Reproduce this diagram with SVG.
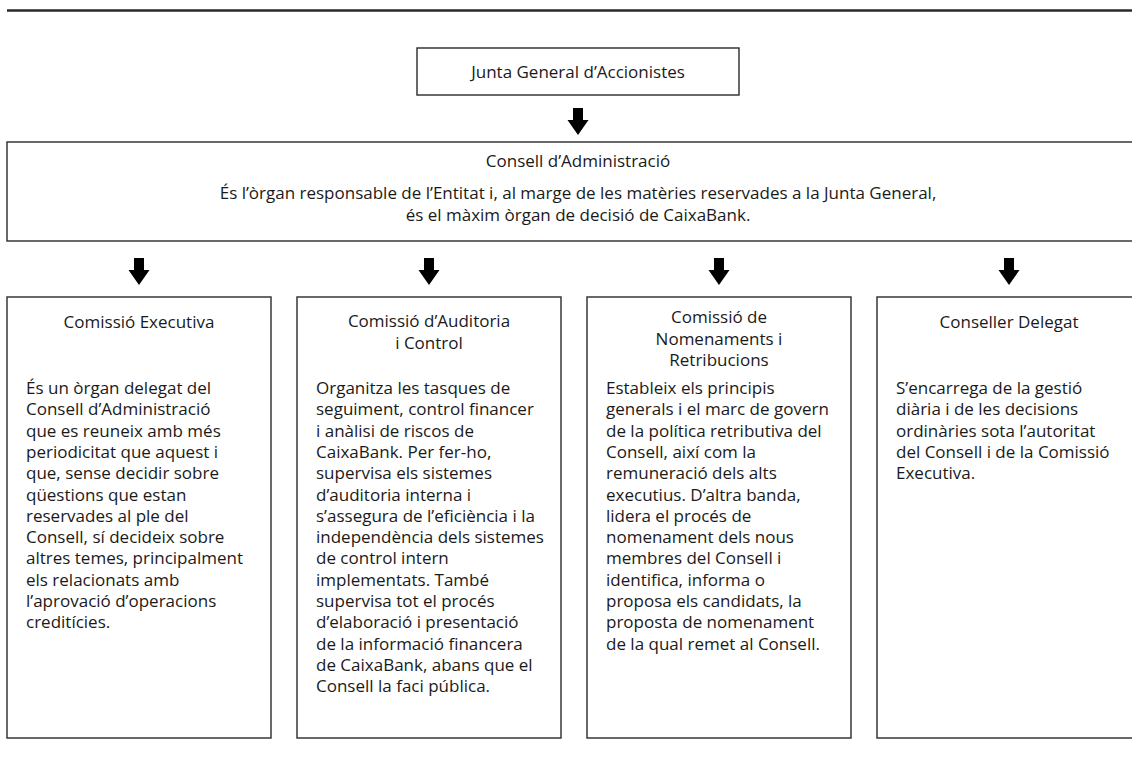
<svg xmlns="http://www.w3.org/2000/svg" width="1132" height="758" viewBox="0 0 1132 758">
<style>
.box{fill:#fff;stroke:#2a2a2a;stroke-width:1.4}
.t{font-family:"Open Sans","Noto Sans","Liberation Sans",sans-serif;font-size:17px;fill:#1a1a1a}
.c{text-anchor:middle}
.arr{fill:#000}
</style>
<defs>
<path id="arrow" d="M-5,0 H5 V12 H10.5 L0,27 L-10.5,12 H-5 Z"/>
</defs>
<rect width="1132" height="758" fill="#fff"/>
<line x1="7" y1="10.5" x2="1132" y2="10.5" stroke="#2a2a2a" stroke-width="2.5"/>
<g id="connectors">
<use href="#arrow" class="arr" x="578" y="108"/>
<use href="#arrow" class="arr" x="139" y="258"/>
<use href="#arrow" class="arr" x="429" y="258"/>
<use href="#arrow" class="arr" x="719" y="258"/>
<use href="#arrow" class="arr" x="1009" y="258"/>
</g>
<g id="junta">
<rect class="box" x="417" y="48" width="322" height="47"/>
<text class="t c" x="578" y="78">Junta General d’Accionistes</text>
</g>
<g id="consell">
<rect class="box" x="7" y="142" width="1140" height="99"/>
<text class="t c" x="578" y="167">Consell d’Administració</text>
<text class="t c" x="578" y="199">És l’òrgan responsable de l’Entitat i, al marge de les matèries reservades a la Junta General,</text>
<text class="t c" x="578" y="221">és el màxim òrgan de decisió de CaixaBank.</text>
</g>
<g id="executiva">
<rect class="box" x="7" y="297" width="264" height="441"/>
<text class="t c" x="139" y="328">Comissió Executiva</text>
<text class="t" x="26" y="394">
<tspan x="26" dy="0">És un òrgan delegat del</tspan>
<tspan x="26" dy="21.3">Consell d’Administració</tspan>
<tspan x="26" dy="21.3">que es reuneix amb més</tspan>
<tspan x="26" dy="21.3">periodicitat que aquest i</tspan>
<tspan x="26" dy="21.3">que, sense decidir sobre</tspan>
<tspan x="26" dy="21.3">qüestions que estan</tspan>
<tspan x="26" dy="21.3">reservades al ple del</tspan>
<tspan x="26" dy="21.3">Consell, sí decideix sobre</tspan>
<tspan x="26" dy="21.3">altres temes, principalment</tspan>
<tspan x="26" dy="21.3">els relacionats amb</tspan>
<tspan x="26" dy="21.3">l’aprovació d’operacions</tspan>
<tspan x="26" dy="21.3">creditícies.</tspan>
</text>
</g>
<g id="auditoria">
<rect class="box" x="297" y="297" width="264" height="441"/>
<text class="t c" x="429" y="327">Comissió d’Auditoria</text>
<text class="t c" x="429" y="348.5">i Control</text>
<text class="t" x="316" y="394">
<tspan x="316" dy="0">Organitza les tasques de</tspan>
<tspan x="316" dy="21.3">seguiment, control financer</tspan>
<tspan x="316" dy="21.3">i anàlisi de riscos de</tspan>
<tspan x="316" dy="21.3">CaixaBank. Per fer-ho,</tspan>
<tspan x="316" dy="21.3">supervisa els sistemes</tspan>
<tspan x="316" dy="21.3">d’auditoria interna i</tspan>
<tspan x="316" dy="21.3">s’assegura de l’eficiència i la</tspan>
<tspan x="316" dy="21.3">independència dels sistemes</tspan>
<tspan x="316" dy="21.3">de control intern</tspan>
<tspan x="316" dy="21.3">implementats. També</tspan>
<tspan x="316" dy="21.3">supervisa tot el procés</tspan>
<tspan x="316" dy="21.3">d’elaboració i presentació</tspan>
<tspan x="316" dy="21.3">de la informació financera</tspan>
<tspan x="316" dy="21.3">de CaixaBank, abans que el</tspan>
<tspan x="316" dy="21.3">Consell la faci pública.</tspan>
</text>
</g>
<g id="nomenaments">
<rect class="box" x="587" y="297" width="264" height="441"/>
<text class="t c" x="719" y="323">Comissió de</text>
<text class="t c" x="719" y="344.5">Nomenaments i</text>
<text class="t c" x="719" y="366">Retribucions</text>
<text class="t" x="606" y="394">
<tspan x="606" dy="0">Estableix els principis</tspan>
<tspan x="606" dy="21.3">generals i el marc de govern</tspan>
<tspan x="606" dy="21.3">de la política retributiva del</tspan>
<tspan x="606" dy="21.3">Consell, així com la</tspan>
<tspan x="606" dy="21.3">remuneració dels alts</tspan>
<tspan x="606" dy="21.3">executius. D’altra banda,</tspan>
<tspan x="606" dy="21.3">lidera el procés de</tspan>
<tspan x="606" dy="21.3">nomenament dels nous</tspan>
<tspan x="606" dy="21.3">membres del Consell i</tspan>
<tspan x="606" dy="21.3">identifica, informa o</tspan>
<tspan x="606" dy="21.3">proposa els candidats, la</tspan>
<tspan x="606" dy="21.3">proposta de nomenament</tspan>
<tspan x="606" dy="21.3">de la qual remet al Consell.</tspan>
</text>
</g>
<g id="delegat">
<rect class="box" x="877" y="297" width="264" height="441"/>
<text class="t c" x="1009" y="328">Conseller Delegat</text>
<text class="t" x="896" y="394">
<tspan x="896" dy="0">S’encarrega de la gestió</tspan>
<tspan x="896" dy="21.3">diària i de les decisions</tspan>
<tspan x="896" dy="21.3">ordinàries sota l’autoritat</tspan>
<tspan x="896" dy="21.3">del Consell i de la Comissió</tspan>
<tspan x="896" dy="21.3">Executiva.</tspan>
</text>
</g>
</svg>
